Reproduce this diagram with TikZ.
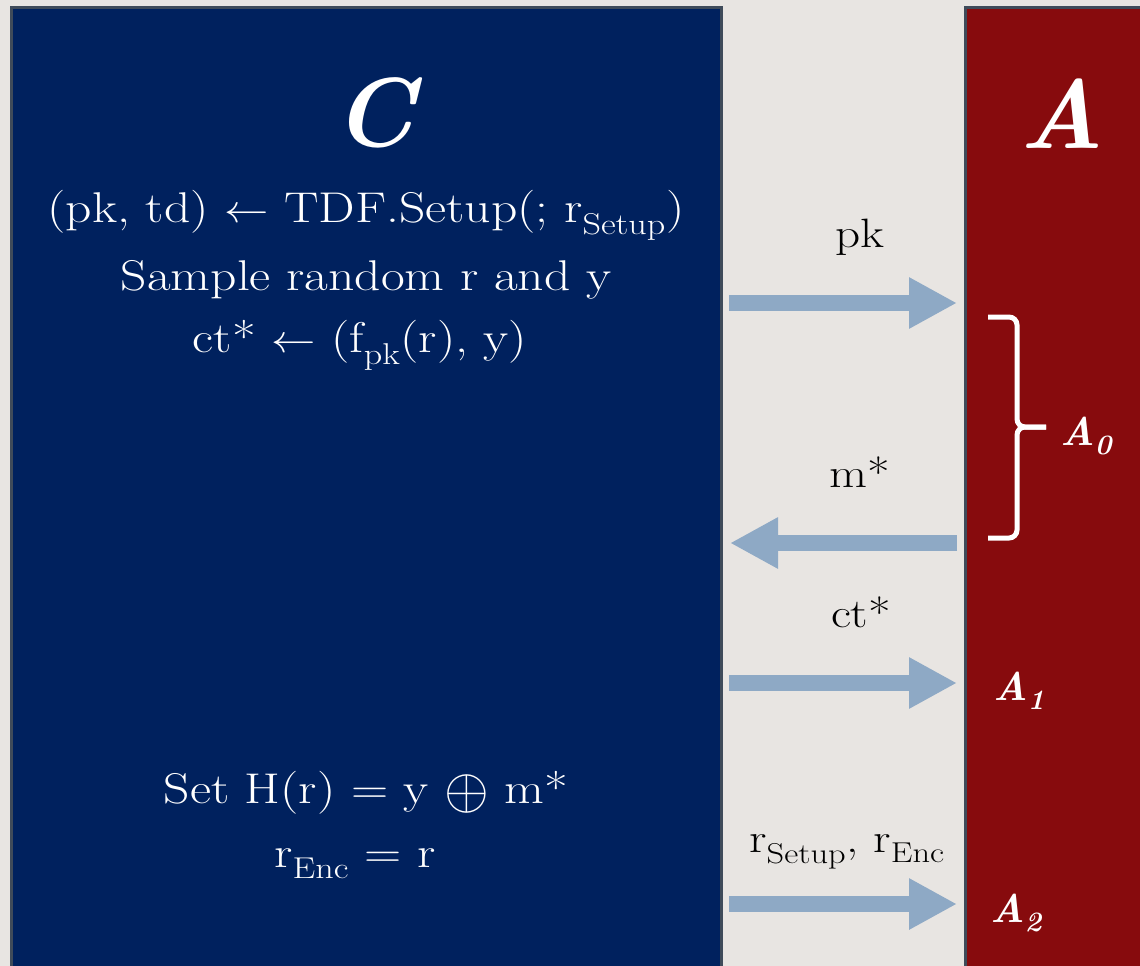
\documentclass[tikz,border=0pt]{standalone}
\usetikzlibrary{arrows.meta}
\definecolor{bgc}{RGB}{232,229,226}
\definecolor{bluec}{RGB}{0,33,94}
\definecolor{redc}{RGB}{135,11,13}
\definecolor{edgec}{RGB}{63,75,90}
\definecolor{arrowc}{RGB}{142,169,197}
\newcommand{\wtext}[1]{\scalebox{1.2}[1]{#1}}
\newcommand{\larr}{\scalebox{3.7}[3.9]{\fontsize{10}{12}\selectfont$\leftarrow$}}
\newcommand{\xorsym}{\raisebox{-5pt}{\scalebox{4.8}[5.8]{\fontsize{10}{12}\selectfont$\oplus$}}}
\tikzset{
  txt/.style={text=white, font=\fontsize{43}{50}\selectfont, anchor=base, inner sep=0pt},
  lbl/.style={text=black, font=\fontsize{41}{48}\selectfont, anchor=base, inner sep=0pt},
  bigletter/.style={text=white, font=\fontsize{98}{110}\selectfont\bfseries\itshape, anchor=base, inner sep=0pt},
  subname/.style={text=white, font=\fontsize{40}{48}\selectfont\bfseries\itshape, anchor=base west, inner sep=0pt},
  msg/.style={draw=arrowc, line width=16pt, -{Triangle[length=48pt,width=48pt]}},
  panel/.style={line width=2.7pt, draw=edgec},
  bracestyle/.style={draw=white, line width=5pt, rounded corners=8pt},
}
\begin{document}
\begin{tikzpicture}[x=1pt,y=-1pt]
\useasboundingbox (0,0) rectangle (1140,966);
\clip (0,0) rectangle (1140,966);
\fill[bgc] (0,0) rectangle (1140,966);
% panels
\draw[panel, fill=bluec] (11.5,7.5) rectangle (721.5,990);
\draw[panel, fill=redc] (965.5,7.5) rectangle (1170,990);
% titles
\node[bigletter] (C) at (374,146) {C};
\node[bigletter] (A) at (1062,148) {A};
% challenger text
\node[txt] (l1) at (366,222) {\wtext{(pk, td) \larr{} TDF.Setup(; r\textsubscript{Setup})}};
\node[txt] (l2) at (366,290) {\wtext{Sample random r and y}};
\node[txt] (l3) at (360,352) {\wtext{ct* \larr{} (f\textsubscript{pk}(r), y)}};
\node[txt] (l4) at (366,803) {\wtext{Set H(r) = y \xorsym{} m*}};
\node[txt] (l5) at (355,867) {\wtext{r\textsubscript{Enc} = r}};
% message labels
\node[lbl] (pk) at (860,247) {\wtext{pk}};
\node[lbl] (ms) at (860,487) {\wtext{m*}};
\node[lbl] (ct) at (861,627) {\wtext{ct*}};
\node[lbl] (rr) at (847,852) {\wtext{r\textsubscript{Setup}, r\textsubscript{Enc}}};
% arrow endpoints
\coordinate (pkS) at (729,303);  \coordinate (pkE) at (957,303);
\coordinate (msS) at (957,543);  \coordinate (msE) at (730,543);
\coordinate (ctS) at (729,683);  \coordinate (ctE) at (957,683);
\coordinate (rrS) at (729,904);  \coordinate (rrE) at (957,904);
\draw[msg] (pkS) -- (pkE);
\draw[msg] (msS) -- (msE);
\draw[msg] (ctS) -- (ctE);
\draw[msg] (rrS) -- (rrE);
% brace
\coordinate (bT) at (988,317);
\coordinate (bB) at (988,538);
\coordinate (bM) at (1017,427);
\coordinate (bP) at (1046,427);
\draw[bracestyle] (bT) -| (bM) -- (bP);
\draw[bracestyle] (bB) -| (bM) -- (bP);
% adversary stages
\node[subname] (A0) at (1060,445) {A\textsubscript{0}};
\node[subname] (A1) at (993,700) {A\textsubscript{1}};
\node[subname] (A2) at (990,922) {A\textsubscript{2}};
\end{tikzpicture}
\end{document}
